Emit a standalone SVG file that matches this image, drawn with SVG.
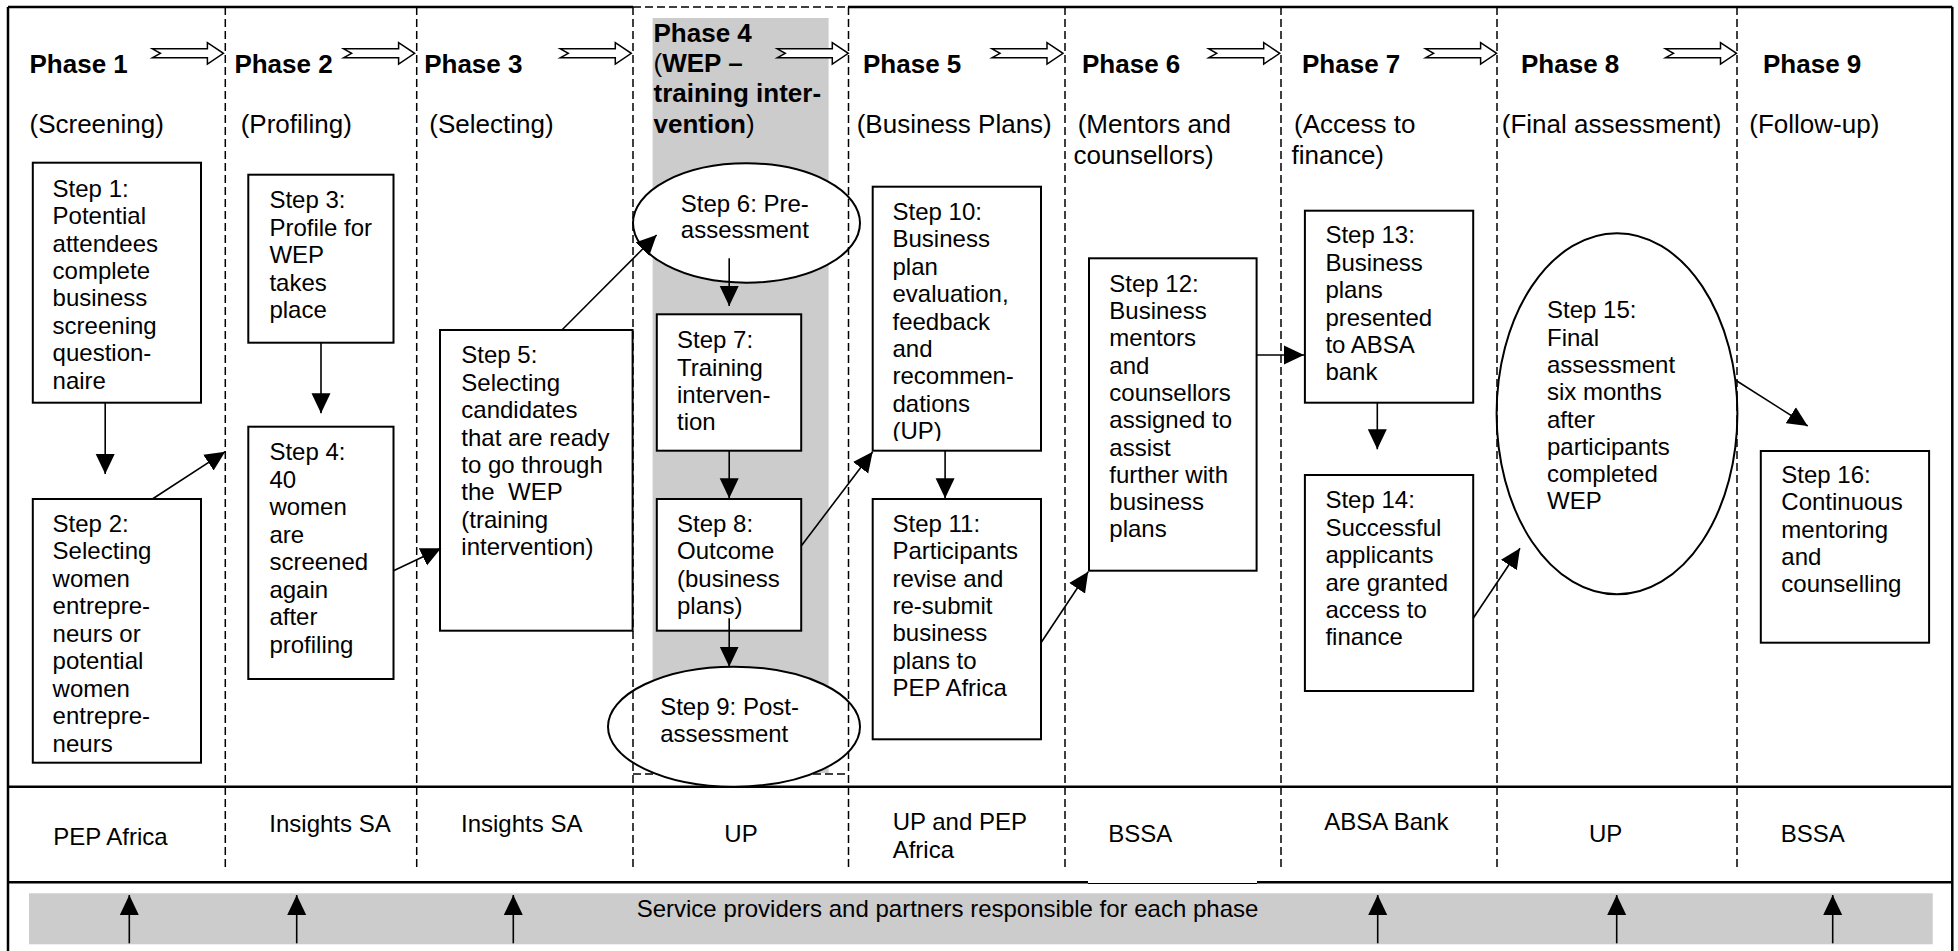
<svg xmlns="http://www.w3.org/2000/svg" width="1958" height="951" viewBox="0 0 1958 951">
<style>
.t{font-family:"Liberation Sans",Arial,Helvetica,sans-serif;font-size:24px;fill:#000}
.ph{font-weight:bold;font-size:26px}
.sub{font-size:26px}
.n{fill:#fff;stroke:#000;stroke-width:2}
.c{stroke:#000;stroke-width:1.6;fill:none;marker-end:url(#ah)}
.dash{stroke:#000;stroke-width:1.5;stroke-dasharray:8 4;fill:none}
.solid{stroke:#000;stroke-width:2.5;fill:none}
.blk{fill:#fff;stroke:#000;stroke-width:1.5}
</style>
<defs>
<marker id="ah" markerUnits="userSpaceOnUse" markerWidth="20" markerHeight="20" viewBox="0 0 20 20" refX="20" refY="10" orient="auto"><path d="M0,0.5 L20,10 L0,19.5 Z" fill="#000"/></marker>
<path id="blkarrow" d="M0,-4.5 L55,-4.5 L55,-10.7 L71,0 L55,10.7 L55,4.5 L0,4.5 L8,0 Z"/>
<clipPath id="c10"><rect x="872" y="186" width="170" height="255"/></clipPath>
</defs>
<rect width="1958" height="951" fill="#fff"/>

<g id="frame">
<rect x="652.6" y="18" width="176" height="755" fill="#cccccc"/>
<rect x="29" y="893.3" width="1903.7" height="51" fill="#cccccc"/>
<path class="solid" d="M8,7 L633,7 M848,7 L1952.3,7 M8,7 L8,951 M1952.3,7 L1952.3,951 M8,786.7 L1952.3,786.7 M8,882.3 L1088,882.3 M1257,882.3 L1952.3,882.3"/>
<path d="M1088,883.5 L1257,883.5" stroke="#000" stroke-width="1"/>
<path class="dash" d="M633,7 L848,7 M633,774 L848,774"/>
</g>

<g id="phase-headers" class="t">
<text class="t ph" x="29.5" y="73.3">Phase 1</text>
<text class="t ph" x="234.4" y="73.3">Phase 2</text>
<text class="t ph" x="424.2" y="73.3">Phase 3</text>
<text class="t ph" x="653.5" y="41.7">Phase 4<tspan x="653.5" dy="30.3" font-weight="normal">(</tspan><tspan>WEP –</tspan><tspan x="653.5" dy="30.3">training inter-</tspan><tspan x="653.5" dy="30.3">vention</tspan><tspan font-weight="normal">)</tspan></text>
<text class="t ph" x="863" y="73.3">Phase 5</text>
<text class="t ph" x="1082" y="73.3">Phase 6</text>
<text class="t ph" x="1302" y="73.3">Phase 7</text>
<text class="t ph" x="1521" y="73.3">Phase 8</text>
<text class="t ph" x="1763" y="73.3">Phase 9</text>
<text class="t sub" x="29.5" y="133.3">(Screening)</text>
<text class="t sub" x="240.7" y="133.3">(Profiling)</text>
<text class="t sub" x="429.3" y="133.3">(Selecting)</text>
<text class="t sub" x="856.7" y="133.3">(Business Plans)</text>
<text class="t sub" x="1077.7" y="133.3">(Mentors and<tspan x="1073.5" dy="30.7">counsellors)</tspan></text>
<text class="t sub" x="1294" y="133.3">(Access to<tspan x="1291.5" dy="30.7">finance)</tspan></text>
<text class="t sub" x="1501.8" y="133.3">(Final assessment)</text>
<text class="t sub" x="1749.3" y="133.3">(Follow-up)</text>
</g>

<g id="phase-arrows" class="blk">
<use href="#blkarrow" transform="translate(152.4,53.3)"/>
<use href="#blkarrow" transform="translate(343.6,53.3)"/>
<use href="#blkarrow" transform="translate(560.3,53.3)"/>
<use href="#blkarrow" transform="translate(777.3,53.3)"/>
<use href="#blkarrow" transform="translate(992,53.3)"/>
<use href="#blkarrow" transform="translate(1208.7,53.3)"/>
<use href="#blkarrow" transform="translate(1425.6,53.3)"/>
<use href="#blkarrow" transform="translate(1665.5,53.3)"/>
</g>

<g id="step1"><rect class="n" x="32.8" y="162.7" width="168.2" height="240"/>
<text class="t" x="52.6" y="196.7">Step 1:<tspan x="52.6" dy="27.4">Potential</tspan><tspan x="52.6" dy="27.4">attendees</tspan><tspan x="52.6" dy="27.4">complete</tspan><tspan x="52.6" dy="27.4">business</tspan><tspan x="52.6" dy="27.4">screening</tspan><tspan x="52.6" dy="27.4">question-</tspan><tspan x="52.6" dy="27.4">naire</tspan></text></g>

<g id="step2"><rect class="n" x="32.8" y="499" width="168.2" height="263.7"/>
<text class="t" x="52.6" y="531.7">Step 2:<tspan x="52.6" dy="27.5">Selecting</tspan><tspan x="52.6" dy="27.5">women</tspan><tspan x="52.6" dy="27.5">entrepre-</tspan><tspan x="52.6" dy="27.5">neurs or</tspan><tspan x="52.6" dy="27.5">potential</tspan><tspan x="52.6" dy="27.5">women</tspan><tspan x="52.6" dy="27.5">entrepre-</tspan><tspan x="52.6" dy="27.5">neurs</tspan></text></g>

<g id="step3"><rect class="n" x="248.3" y="174.7" width="145.2" height="168"/>
<text class="t" x="269.4" y="208.3">Step 3:<tspan x="269.4" dy="27.5">Profile for</tspan><tspan x="269.4" dy="27.5">WEP</tspan><tspan x="269.4" dy="27.5">takes</tspan><tspan x="269.4" dy="27.5">place</tspan></text></g>

<g id="step4"><rect class="n" x="248.3" y="426.7" width="145.2" height="252.3"/>
<text class="t" x="269.4" y="460">Step 4:<tspan x="269.4" dy="27.5">40</tspan><tspan x="269.4" dy="27.5">women</tspan><tspan x="269.4" dy="27.5">are</tspan><tspan x="269.4" dy="27.5">screened</tspan><tspan x="269.4" dy="27.5">again</tspan><tspan x="269.4" dy="27.5">after</tspan><tspan x="269.4" dy="27.5">profiling</tspan></text></g>

<g id="step5"><rect class="n" x="440" y="330" width="192.6" height="300.7"/>
<text class="t" x="461.3" y="363.3" xml:space="preserve">Step 5:<tspan x="461.3" dy="27.4">Selecting</tspan><tspan x="461.3" dy="27.4">candidates</tspan><tspan x="461.3" dy="27.4">that are ready</tspan><tspan x="461.3" dy="27.4">to go through</tspan><tspan x="461.3" dy="27.4">the  WEP</tspan><tspan x="461.3" dy="27.4">(training</tspan><tspan x="461.3" dy="27.4">intervention)</tspan></text></g>

<g id="step6"><ellipse class="n" cx="746.5" cy="223" rx="113.5" ry="59.7"/>
<text class="t" x="680.8" y="211.7">Step 6: Pre-<tspan x="680.8" dy="26.6">assessment</tspan></text></g>

<g id="step7"><rect class="n" x="656.8" y="314.3" width="144.4" height="136.4"/>
<text class="t" x="677" y="348.3">Step 7:<tspan x="677" dy="27.3">Training</tspan><tspan x="677" dy="27.3">interven-</tspan><tspan x="677" dy="27.3">tion</tspan></text></g>

<g id="step8"><rect class="n" x="656.8" y="499" width="144.4" height="131.7"/>
<text class="t" x="677" y="531.7">Step 8:<tspan x="677" dy="27.4">Outcome</tspan><tspan x="677" dy="27.4">(business</tspan><tspan x="677" dy="27.4">plans)</tspan></text></g>

<g id="step9"><ellipse class="n" cx="734" cy="726.7" rx="126" ry="60"/>
<text class="t" x="660.2" y="715">Step 9: Post-<tspan x="660.2" dy="26.7">assessment</tspan></text></g>

<g id="step10"><rect class="n" x="872.7" y="186.7" width="168.3" height="264"/>
<text class="t" x="892.5" y="220" clip-path="url(#c10)">Step 10:<tspan x="892.5" dy="27.4">Business</tspan><tspan x="892.5" dy="27.4">plan</tspan><tspan x="892.5" dy="27.4">evaluation,</tspan><tspan x="892.5" dy="27.4">feedback</tspan><tspan x="892.5" dy="27.4">and</tspan><tspan x="892.5" dy="27.4">recommen-</tspan><tspan x="892.5" dy="27.4">dations</tspan><tspan x="892.5" dy="27.4">(UP)</tspan></text></g>

<g id="step11"><rect class="n" x="872.7" y="499" width="168.3" height="240.3"/>
<text class="t" x="892.5" y="531.7">Step 11:<tspan x="892.5" dy="27.4">Participants</tspan><tspan x="892.5" dy="27.4">revise and</tspan><tspan x="892.5" dy="27.4">re-submit</tspan><tspan x="892.5" dy="27.4">business</tspan><tspan x="892.5" dy="27.4">plans to</tspan><tspan x="892.5" dy="27.4">PEP Africa</tspan></text></g>

<g id="step12"><rect class="n" x="1089" y="258.3" width="167.6" height="312.4"/>
<text class="t" x="1109.3" y="291.7">Step 12:<tspan x="1109.3" dy="27.3">Business</tspan><tspan x="1109.3" dy="27.3">mentors</tspan><tspan x="1109.3" dy="27.3">and</tspan><tspan x="1109.3" dy="27.3">counsellors</tspan><tspan x="1109.3" dy="27.3">assigned to</tspan><tspan x="1109.3" dy="27.3">assist</tspan><tspan x="1109.3" dy="27.3">further with</tspan><tspan x="1109.3" dy="27.3">business</tspan><tspan x="1109.3" dy="27.3">plans</tspan></text></g>

<g id="step13"><rect class="n" x="1304.9" y="210.7" width="168.3" height="192"/>
<text class="t" x="1325.4" y="243.3">Step 13:<tspan x="1325.4" dy="27.4">Business</tspan><tspan x="1325.4" dy="27.4">plans</tspan><tspan x="1325.4" dy="27.4">presented</tspan><tspan x="1325.4" dy="27.4">to ABSA</tspan><tspan x="1325.4" dy="27.4">bank</tspan></text></g>

<g id="step14"><rect class="n" x="1304.9" y="475" width="168.3" height="216"/>
<text class="t" x="1325.4" y="508.3">Step 14:<tspan x="1325.4" dy="27.4">Successful</tspan><tspan x="1325.4" dy="27.4">applicants</tspan><tspan x="1325.4" dy="27.4">are granted</tspan><tspan x="1325.4" dy="27.4">access to</tspan><tspan x="1325.4" dy="27.4">finance</tspan></text></g>

<g id="step15"><ellipse class="n" cx="1617" cy="413.8" rx="120.4" ry="180.5"/>
<text class="t" x="1547" y="318.3">Step 15:<tspan x="1547" dy="27.3">Final</tspan><tspan x="1547" dy="27.3">assessment</tspan><tspan x="1547" dy="27.3">six months</tspan><tspan x="1547" dy="27.3">after</tspan><tspan x="1547" dy="27.3">participants</tspan><tspan x="1547" dy="27.3">completed</tspan><tspan x="1547" dy="27.3">WEP</tspan></text></g>

<g id="step16"><rect class="n" x="1760.8" y="451" width="168.3" height="191.7"/>
<text class="t" x="1781.3" y="482.7">Step 16:<tspan x="1781.3" dy="27.4">Continuous</tspan><tspan x="1781.3" dy="27.4">mentoring</tspan><tspan x="1781.3" dy="27.4">and</tspan><tspan x="1781.3" dy="27.4">counselling</tspan></text></g>

<g id="column-lines" class="dash">
<path d="M225.3,7 L225.3,870 M416.7,7 L416.7,870 M633,7 L633,870 M848.5,7 L848.5,870 M1065,7 L1065,870 M1281,7 L1281,870 M1497,7 L1497,870 M1737,7 L1737,870"/>
</g>

<g id="providers">
<text class="t" x="53.3" y="845" font-size="26">PEP Africa</text>
<text class="t" x="269.3" y="831.7">Insights SA</text>
<text class="t" x="461" y="831.7">Insights SA</text>
<text class="t" x="724.3" y="841.7">UP</text>
<text class="t" x="892.7" y="830">UP and PEP<tspan x="892.7" dy="28.3">Africa</tspan></text>
<text class="t" x="1108.3" y="842.3">BSSA</text>
<text class="t" x="1324.3" y="830">ABSA Bank</text>
<text class="t" x="1589" y="842.3">UP</text>
<text class="t" x="1780.7" y="842.3">BSSA</text>
<text class="t" x="636.7" y="917" font-size="26.5">Service providers and partners responsible for each phase</text>
</g>

<g id="connectors">
<line class="c" x1="105.2" y1="402.7" x2="105.2" y2="474"/>
<line class="c" x1="152.4" y1="499" x2="225.2" y2="451.7"/>
<line class="c" x1="321" y1="342.7" x2="321" y2="413.3"/>
<line class="c" x1="393.5" y1="570.7" x2="441" y2="548.3"/>
<line class="c" x1="561.9" y1="330" x2="656.6" y2="235"/>
<line class="c" x1="729.2" y1="258.3" x2="729.2" y2="306"/>
<line class="c" x1="729.2" y1="450.7" x2="729.2" y2="498.3"/>
<line class="c" x1="729.2" y1="618.3" x2="729.2" y2="666.7"/>
<line class="c" x1="801.2" y1="546" x2="872.7" y2="451.7"/>
<line class="c" x1="945.1" y1="450.7" x2="945.1" y2="498.3"/>
<line class="c" x1="1041" y1="642.7" x2="1088.2" y2="571.7"/>
<line class="c" x1="1256.6" y1="355" x2="1304" y2="355"/>
<line class="c" x1="1377.3" y1="402.7" x2="1377.3" y2="449.3"/>
<line class="c" x1="1473.2" y1="618.3" x2="1520" y2="548.3"/>
<line class="c" x1="1735.3" y1="380" x2="1807.7" y2="426"/>
<line class="c" x1="129.3" y1="943.3" x2="129.3" y2="895"/>
<line class="c" x1="296.7" y1="943.3" x2="296.7" y2="895"/>
<line class="c" x1="513.3" y1="943.3" x2="513.3" y2="895"/>
<line class="c" x1="1377.7" y1="943.3" x2="1377.7" y2="895"/>
<line class="c" x1="1616.7" y1="943.3" x2="1616.7" y2="895"/>
<line class="c" x1="1832.7" y1="943.3" x2="1832.7" y2="895"/>
</g>
</svg>
